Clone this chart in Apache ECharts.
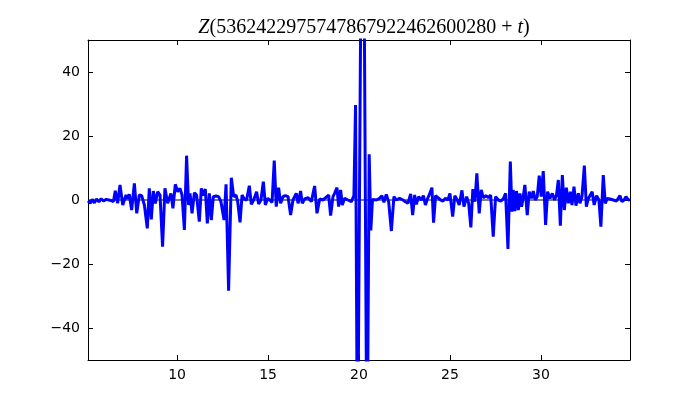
<!DOCTYPE html>
<html>
<head>
<meta charset="utf-8">
<script src="https://cdn.jsdelivr.net/npm/echarts@6/dist/echarts.min.js"></script>
<style>html,body{margin:0;padding:0;background:#fff;}#c{width:700px;height:400px;}</style>
</head>
<body>
<div id="c"></div>
<script>
var titleOffset = '5362422975747867922462600280';
var xTicks = [10, 15, 20, 25, 30];
var yTicks = [-40, -20, 0, 20, 40];
var xMin = 5.1, xMax = 34.9, yMin = -50, yMax = 50;

var tValues = [
5.10,5.22,5.33,5.45,5.57,5.70,5.82,5.95,6.10,6.25,6.38,6.50,
6.60,6.73,6.86,7.01,7.19,7.28,7.37,7.50,7.65,7.78,7.92,8.05,8.20,8.36,8.47,8.58,8.69,8.80,8.93,9.06,
9.20,9.33,9.48,9.66,9.77,9.90,10.03,10.16,10.27,10.40,10.52,10.63,10.71,10.82,10.95,11.07,11.22,11.33,
11.44,11.55,11.66,11.77,11.88,11.99,12.14,12.28,12.41,12.58,12.69,12.83,12.98,13.11,13.24,13.33,13.46,
13.57,13.69,13.82,13.97,14.08,14.21,14.37,14.48,14.61,14.74,14.85,14.98,
15.09,15.22,15.34,15.45,15.58,15.69,15.82,15.95,16.10,16.24,16.37,16.55,16.65,16.79,16.88,17.01,17.20,
17.38,17.56,17.69,17.84,18.02,18.17,18.33,18.44,18.57,18.66,18.79,18.88,18.99,19.08,19.21,19.39,19.58,
19.72,19.81,19.92,20.20,20.44,20.56,20.65,20.74,20.84,20.95,21.13,21.26,21.37,21.50,21.63,21.78,21.92,
22.05,22.23,22.42,22.55,22.69,22.84,22.95,23.06,23.15,23.28,23.43,23.54,23.65,23.76,23.88,24.01,24.10,
24.21,24.34,24.49,24.62,24.75,24.89,
25.00,25.15,25.27,25.40,25.51,25.66,25.77,25.92,26.03,26.15,26.26,26.37,26.48,26.61,26.72,26.83,26.98,
27.11,27.24,27.38,27.51,27.66,27.79,27.93,28.06,28.19,28.32,28.41,28.48,28.57,28.66,28.76,28.85,28.94,
29.03,29.12,29.25,29.36,29.49,29.58,29.69,29.80,29.91,30.02,30.13,30.26,30.37,30.50,30.63,30.75,30.86,
30.96,31.07,31.18,31.29,31.40,31.51,31.62,31.71,31.82,31.93,32.06,32.15,32.26,32.39,32.50,32.60,32.70,
32.82,32.93,33.06,33.19,33.30,33.43,33.54,33.65,33.80,33.98,34.16,34.35,34.46,34.57,34.68,34.77,34.90
];
var zValues = [
-0.3,-1.0,0.2,-0.9,0.3,-0.6,0.4,-0.3,0.2,0.0,-0.2,-0.5,
2.92,-1.04,4.69,-1.56,1.56,0.3,1.77,-3.12,5.21,-4.17,1.56,1.35,-1.56,-8.85,3.65,-6.04,2.81,-1.04,2.6,1.56,
-14.58,3.65,-1.04,2.08,-2.6,4.9,2.6,3.65,1.56,-9.38,13.85,-1.56,2.08,-4.17,2.29,1.56,-6.77,3.65,
1.35,3.44,-7.29,2.08,-6.25,1.04,1.25,1.04,-0.52,-6.25,4.9,-28.33,6.98,1.04,1.56,-0.52,-6.98,
1.56,0.31,0,4.48,-1.35,0,2.6,-1.25,0,5.73,-1.56,0.52,
0,-0.73,12.29,-2.08,3.85,-1.04,1.04,1.35,1.04,-4.69,0,2.08,-1.04,2.81,-1.04,0.31,0.73,
-0.52,4.38,-4.17,0.31,0,0.73,1.56,-4.9,1.04,2.08,3.85,-2.08,3.13,-1.56,0.52,0,-0.52,
1.35,29.7,-90,150,-90,14.3,-9.5,0.2,0.73,0,0.52,1.35,-0.73,1.77,-0.52,-9.69,1.04,
0,0.52,0,-0.52,-1.04,1.88,-4.69,1.56,-1.35,1.04,0,1.35,-1.56,0.31,1.88,3.85,-7.08,
1.35,0.73,0,-0.31,0.52,0,
2.08,-5.21,1.35,0,-1.56,3.02,-2.08,1.04,-1.04,-8.54,3.44,-0.52,8.33,-4.17,3.13,0.73,1.35,
0.73,1.56,-11.46,1.04,0,-0.31,0.31,2.08,-15.31,11.98,-3.65,3.13,-3.44,2.81,-3.13,2.08,-2.08,
1.04,4.69,-4.69,2.6,0.52,2.81,0,1.04,7.6,1.04,9.06,-7.81,2.6,0.52,2.08,0,1.56,
6.25,-8.02,7.81,-3.13,3.85,-1.04,2.6,-1.56,4.17,-1.77,2.08,-1.04,1.04,10.73,-2.08,0.31,0,
2.6,-1.56,1.35,0,-8.33,7.81,-1.04,0.52,0.31,0,-0.31,1.35,-0.52,0,1.04,0.31,-0.2
];

var zData = tValues.map(function (t, i) { return [t, zValues[i]]; });
var minus = function (v) { return String(v).replace('-', '\u2212'); };
var labelFont = { fontFamily: 'DejaVu Sans', fontSize: 14, color: '#000' };

var chart = echarts.init(document.getElementById('c'), null, { renderer: 'canvas' });
chart.setOption({
  animation: false,
  backgroundColor: '#fff',
  title: {
    text: '{i|Z}{n|(' + titleOffset + ' + }{i|t}{n|)}',
    left: 359, top: 13, textAlign: 'center',
    textStyle: {
      fontWeight: 'normal',
      rich: {
        i: { fontFamily: 'Liberation Serif', fontStyle: 'italic', fontWeight: 'normal', fontSize: 20, color: '#000' },
        n: { fontFamily: 'Liberation Serif', fontWeight: 'normal', fontSize: 20, color: '#000' }
      }
    }
  },
  grid: { left: 88, right: 70, top: 40, bottom: 40 },
  xAxis: [{
    type: 'value', min: xMin, max: xMax, position: 'bottom',
    axisLine: { onZero: false, lineStyle: { color: '#000', width: 1 } },
    axisTick: { inside: true, length: 5, customValues: xTicks, lineStyle: { color: '#000' } },
    axisLabel: Object.assign({ customValues: xTicks, margin: 8 }, labelFont),
    splitLine: { show: false }
  }, {
    type: 'value', min: xMin, max: xMax, position: 'top',
    axisLine: { onZero: false, lineStyle: { color: '#000', width: 1 } },
    axisTick: { inside: true, length: 5, customValues: xTicks, lineStyle: { color: '#000' } },
    axisLabel: { show: false },
    splitLine: { show: false }
  }],
  yAxis: [{
    type: 'value', min: yMin, max: yMax, position: 'left',
    axisLine: { show: true, onZero: false, lineStyle: { color: '#000', width: 1 } },
    axisTick: { show: true, inside: true, length: 5, customValues: yTicks, lineStyle: { color: '#000' } },
    axisLabel: Object.assign({ customValues: yTicks, margin: 8, formatter: minus }, labelFont),
    splitLine: { show: false }
  }, {
    type: 'value', min: yMin, max: yMax, position: 'right',
    axisLine: { show: true, onZero: false, lineStyle: { color: '#000', width: 1 } },
    axisTick: { show: true, inside: true, length: 5, customValues: yTicks, lineStyle: { color: '#000' } },
    axisLabel: { show: false },
    splitLine: { show: false }
  }],
  series: [{
    type: 'line', name: 'zero', xAxisIndex: 0, yAxisIndex: 0,
    data: [[xMin, 0], [xMax, 0]], symbol: 'none', silent: true, z: 1,
    lineStyle: { color: '#000', width: 1 }
  }, {
    type: 'line', name: 'Z', xAxisIndex: 0, yAxisIndex: 0,
    data: zData, symbol: 'none', clip: true, z: 2,
    lineStyle: { color: '#0000ff', width: 3 }
  }]
});
</script>
</body>
</html>
